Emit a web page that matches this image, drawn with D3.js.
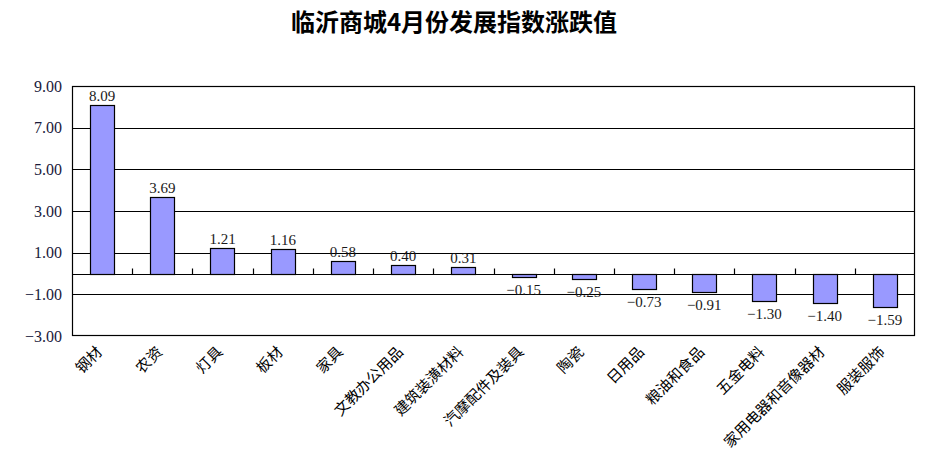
<!DOCTYPE html>
<html><head><meta charset="utf-8">
<script src="https://cdn.jsdelivr.net/npm/d3@7"></script>
<style>body{margin:0;background:#fff}svg{display:block}</style>
</head><body>
<svg id="c" width="934" height="467"></svg>
<script>
const title = "临沂商城4月份发展指数涨跌值";
const categories = ["钢材","农资","灯具","板材","家具","文教办公用品","建筑装潢材料","汽摩配件及装具","陶瓷","日用品","粮油和食品","五金电料","家用电器和音像器材","服装服饰"];
const values = [8.09,3.69,1.21,1.16,0.58,0.40,0.31,-0.15,-0.25,-0.73,-0.91,-1.30,-1.40,-1.59];
const yTicks = [-3,-1,1,3,5,7,9];

const svg = d3.select("#c");
const L = 72, R = 915, T = 86, B = 336;
const serif = "'Liberation Serif','Noto Sans CJK SC',serif";
const x = d3.scaleBand().domain(categories).range([L, R]).padding(0);
const y = d3.scaleLinear().domain([-3, 9]).range([B, T]);
const fmt = v => (v < 0 ? "\u2212" : "") + Math.abs(v).toFixed(2);

svg.append("text").attr("x", 454).attr("y", 31).attr("text-anchor", "middle")
  .attr("font-family", "'Noto Sans CJK SC',sans-serif").attr("font-weight", "bold")
  .attr("font-size", 24).attr("fill", "#000").text(title);

// gridlines
svg.append("g").selectAll("line").data(yTicks.filter(t => t > -3 && t < 9)).join("line")
  .attr("x1", L).attr("x2", R).attr("y1", d => Math.round(y(d)) + 0.5).attr("y2", d => Math.round(y(d)) + 0.5)
  .attr("stroke", "#000").attr("stroke-width", 1);

// frame
svg.append("rect").attr("x", L + 0.5).attr("y", T + 0.5).attr("width", R - L - 1).attr("height", B - T - 1)
  .attr("fill", "none").attr("stroke", "#000").attr("stroke-width", 1.2);

// y axis labels
const yAxis = d3.axisLeft(y).tickValues(yTicks).tickSize(0).tickPadding(10).tickFormat(fmt);
const ga = svg.append("g").attr("transform", `translate(${L},0)`).call(yAxis);
ga.select(".domain").remove();
ga.selectAll("text").attr("font-family", serif).attr("font-size", 16).attr("fill", "#1a1a3a");

// bars
const bw = x.bandwidth() * 0.4;
const cx = d => x(d) + x.bandwidth() / 2;
svg.append("g").selectAll("rect").data(categories).join("rect")
  .attr("x", (d) => Math.round(cx(d) - bw / 2) + 0.5)
  .attr("y", (d, i) => Math.round(y(Math.max(0, values[i]))) + 0.5)
  .attr("width", Math.round(bw))
  .attr("height", (d, i) => Math.abs(Math.round(y(values[i])) - Math.round(y(0))))
  .attr("fill", "#9999ff").attr("stroke", "#000").attr("stroke-width", 1.2);

// zero axis line and ticks
const y0 = Math.round(y(0)) + 0.5;
svg.append("line").attr("x1", L).attr("x2", R).attr("y1", y0).attr("y2", y0).attr("stroke", "#000").attr("stroke-width", 1.2);
svg.append("g").selectAll("line").data(categories.slice(1)).join("line")
  .attr("x1", d => Math.round(x(d)) + 0.5).attr("x2", d => Math.round(x(d)) + 0.5)
  .attr("y1", y0).attr("y2", y0 - 6).attr("stroke", "#000").attr("stroke-width", 1.2);

// value labels
svg.append("g").selectAll("text").data(categories).join("text")
  .attr("x", d => cx(d))
  .attr("y", (d, i) => values[i] >= 0 ? y(values[i]) - 4 : y(values[i]) + 18)
  .attr("text-anchor", "middle").attr("font-family", serif).attr("font-size", 15).attr("fill", "#1a1a1a")
  .text((d, i) => fmt(values[i]));

// category labels
svg.append("g").selectAll("text").data(categories).join("text")
  .attr("transform", d => `translate(${cx(d) + 1},${B + 17}) rotate(-45)`)
  .attr("text-anchor", "end").attr("font-family", "'Noto Sans CJK SC',serif").attr("font-size", 15)
  .attr("fill", "#000").text(d => d);
</script>
</body></html>
